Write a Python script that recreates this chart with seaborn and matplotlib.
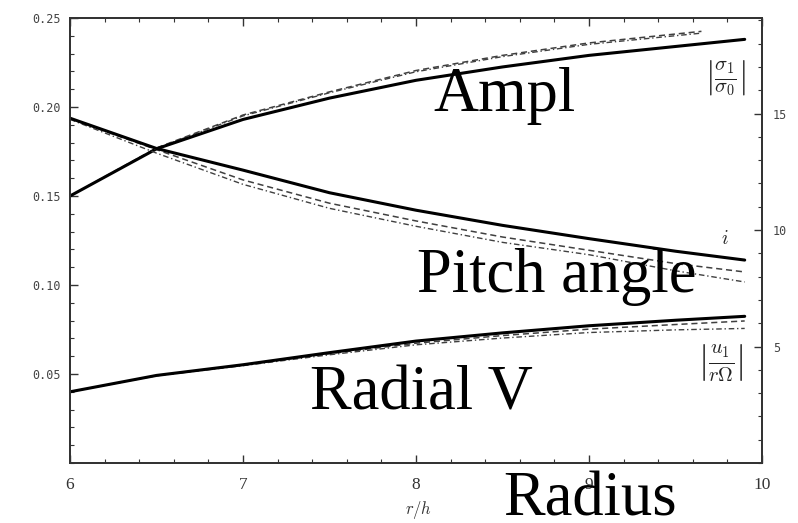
import numpy as np
import pandas as pd
import matplotlib
matplotlib.use("Agg")
import matplotlib.pyplot as plt
import seaborn as sns
from matplotlib.ticker import MultipleLocator, FormatStrFormatter

# ---- data ----
r = [6.0, 6.5, 7.0, 7.5, 8.0, 8.5, 9.0, 9.5, 9.9]
r_ampl_thin = [6.0, 6.5, 7.0, 7.5, 8.0, 8.5, 9.0, 9.65]

ampl_solid = [0.150, 0.1765, 0.193, 0.205, 0.215, 0.2225, 0.229, 0.234, 0.238]
ampl_dash = [0.150, 0.177, 0.1955, 0.2085, 0.2205, 0.229, 0.236, 0.2425]
ampl_dashdot = [0.150, 0.1768, 0.195, 0.208, 0.2198, 0.2283, 0.2352, 0.2415]

# pitch angle i in degrees (right axis)
pitch_solid = [14.8, 13.5, 12.57, 11.6, 10.85, 10.2, 9.63, 9.09, 8.71]
pitch_dash = [14.78, 13.45, 12.15, 11.15, 10.39, 9.70, 9.13, 8.56, 8.20]
pitch_dashdot = [14.75, 13.3, 11.96, 10.93, 10.16, 9.47, 8.94, 8.25, 7.77]

radial_solid = [0.040, 0.0492, 0.0552, 0.062, 0.0685, 0.0731, 0.0771, 0.0802, 0.0824]
radial_dash = [0.040, 0.0491, 0.0550, 0.0614, 0.0673, 0.0716, 0.0752, 0.0778, 0.0798]
radial_dashdot = [0.040, 0.0490, 0.0547, 0.0608, 0.0664, 0.0702, 0.0733, 0.0748, 0.0756]

left_ticks = [0.05, 0.10, 0.15, 0.20, 0.25]
right_ticks = [5, 10, 15]
x_ticks = [6, 7, 8, 9, 10]

sns.set_theme(style="white")
plt.rcParams["mathtext.fontset"] = "cm"

fig = plt.figure(figsize=(7.98, 5.23), dpi=100)
ax = fig.add_axes([70 / 798, 1 - 463 / 523, 692 / 798, 445 / 523])
ax2 = ax.twinx()

thick = dict(color="black", linewidth=2.2)
dash = dict(color="#404040", linewidth=1.1, linestyle=(0, (4, 2.5)))
dashdot = dict(color="#404040", linewidth=1.0, linestyle=(0, (4, 2, 1, 2)))

# amplitude (left axis)
sns.lineplot(x=r_ampl_thin, y=ampl_dashdot, ax=ax, **dashdot)
sns.lineplot(x=r_ampl_thin, y=ampl_dash, ax=ax, **dash)
sns.lineplot(x=r, y=ampl_solid, ax=ax, **thick)
# radial velocity (left axis)
sns.lineplot(x=r, y=radial_dashdot, ax=ax, **dashdot)
sns.lineplot(x=r, y=radial_dash, ax=ax, **dash)
sns.lineplot(x=r, y=radial_solid, ax=ax, **thick)
# pitch angle (right axis)
sns.lineplot(x=r, y=pitch_dashdot, ax=ax2, **dashdot)
sns.lineplot(x=r, y=pitch_dash, ax=ax2, **dash)
sns.lineplot(x=r, y=pitch_solid, ax=ax2, **thick)

ax.set_xlim(6, 10)
ax.set_ylim(0, 0.25)
ax2.set_ylim(0, 19.1)

ax.set_xticks(x_ticks)
ax.set_xticklabels([str(t) for t in x_ticks], family="Liberation Serif", fontsize=12.5, color="#333333")
ax.xaxis.set_minor_locator(MultipleLocator(0.2))
ax.set_yticks(left_ticks)
ax.yaxis.set_major_formatter(FormatStrFormatter("%.2f"))
ax.yaxis.set_minor_locator(MultipleLocator(0.01))
for lab in ax.get_yticklabels():
    lab.set_family("DejaVu Sans Mono")
    lab.set_fontsize(8.5)
    lab.set_color("#444444")

ax2.set_yticks(right_ticks)
ax2.yaxis.set_minor_locator(MultipleLocator(1))
for lab in ax2.get_yticklabels():
    lab.set_family("DejaVu Sans Mono")
    lab.set_fontsize(8.5)
    lab.set_color("#444444")

ax.tick_params(axis="x", which="both", direction="in", top=True, bottom=True, color="#333333")
ax.tick_params(axis="x", which="major", length=6, width=1, pad=10)
ax.tick_params(axis="x", which="minor", length=3, width=0.8)
ax.tick_params(axis="y", which="both", direction="in", left=True, right=False, color="#333333")
ax.tick_params(axis="y", which="major", length=6, width=1, pad=7)
ax.tick_params(axis="y", which="minor", length=3, width=0.8)
ax2.tick_params(axis="y", which="both", direction="in", right=True, color="#333333")
ax2.tick_params(axis="y", which="major", length=6, width=1, pad=8)
ax2.tick_params(axis="y", which="minor", length=3, width=0.8)

for a in (ax, ax2):
    for s in a.spines.values():
        s.set_color("#333333")
        s.set_linewidth(1.3)
    a.set_xlabel("")
    a.set_ylabel("")
    a.grid(False)

# axis label
fig.text(418 / 798, 1 - 510 / 523, r"$r/h$", fontsize=12, ha="center", va="center", color="#333333")

# curve labels (math)
fig.text(725 / 798, 1 - 78 / 523, r"$\left|\frac{\sigma_1}{\sigma_0}\right|$", fontsize=21,
         ha="center", va="center", color="#222222")
fig.text(725 / 798, 1 - 238 / 523, r"$i$", fontsize=14, ha="center", va="center", color="#222222")
fig.text(721 / 798, 1 - 363 / 523, r"$\left|\frac{u_1}{r\Omega}\right|$", fontsize=21,
         ha="center", va="center", color="#222222")

# large annotations
big = dict(family="Liberation Serif", fontsize=45, color="black", ha="left", va="baseline")
fig.text(433 / 798, 1 - 111 / 523, "Ampl", **big)
fig.text(417 / 798, 1 - 292 / 523, "Pitch angle", **big)
fig.text(310 / 798, 1 - 410 / 523, "Radial V", **big)
fig.text(503 / 798, 1 - 515 / 523, "Radius", **big)

fig.savefig("out.png", dpi=100)
